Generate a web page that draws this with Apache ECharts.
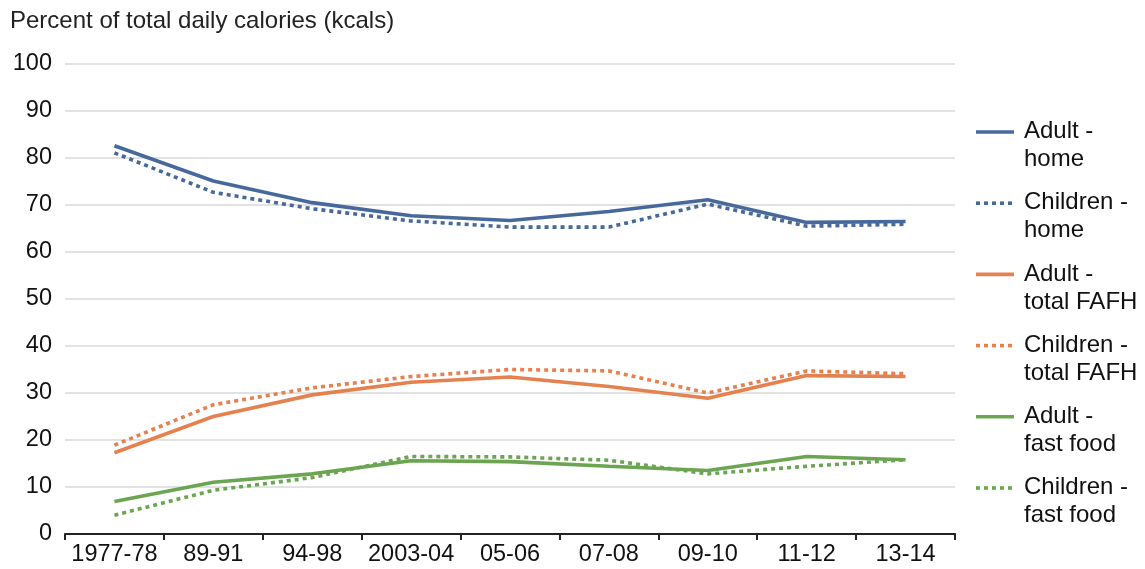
<!DOCTYPE html>
<html><head><meta charset="utf-8">
<script src="https://cdn.jsdelivr.net/npm/echarts@6/dist/echarts.min.js"></script>
<style>html,body{margin:0;padding:0;background:#fff}#c{width:1145px;height:569px}</style>
</head><body><div id="c"></div>
<script>
const categories = ['1977-78','89-91','94-98','2003-04','05-06','07-08','09-10','11-12','13-14'];
const adultHome = [82.6,75.1,70.5,67.7,66.7,68.6,71.1,66.3,66.5];
const childHome = [81.1,72.7,69.2,66.6,65.3,65.3,70.2,65.5,65.9];
const adultFAFH = [17.3,25.0,29.6,32.3,33.4,31.4,28.9,33.7,33.5];
const childFAFH = [18.9,27.5,31.1,33.5,35.0,34.7,30.0,34.7,34.1];
const adultFast = [6.9,11.0,12.8,15.6,15.4,14.4,13.5,16.5,15.8];
const childFast = [4.0,9.3,12.0,16.5,16.4,15.7,12.8,14.4,15.8];
const seriesNames = [['Adult -','home'],['Children -','home'],['Adult -','total FAFH'],['Children -','total FAFH'],['Adult -','fast food'],['Children -','fast food']];
const yTicks = [0,10,20,30,40,50,60,70,80,90,100];
const yTitle = 'Percent of total daily calories (kcals)';

const BLUE='#47689B', ORANGE='#E5814F', GREEN='#6BA552';
const FONT='"Liberation Sans", Arial, Helvetica, sans-serif';
const dataSets=[adultHome,childHome,adultFAFH,childFAFH,adultFast,childFast];
const colors=[BLUE,BLUE,ORANGE,ORANGE,GREEN,GREEN];
const dashed=[false,true,false,true,false,true];

const series=dataSets.map((d,i)=>({
  name:seriesNames[i].join(' '),type:'line',data:d,symbol:'none',smooth:false,
  lineStyle:{color:colors[i],width:3.6,type:dashed[i]?[4,4]:'solid',cap:'butt'},
  itemStyle:{color:colors[i]},z:dashed[i]?3:2
}));

const graphic=[{type:'text',left:10,top:9,style:{text:yTitle,font:'24px '+FONT,fill:'#222'}}];
seriesNames.forEach((n,i)=>{
  const yc=132+i*71.2;
  graphic.push({type:'line',shape:{x1:976,y1:yc,x2:1014,y2:yc},
    style:{stroke:colors[i],lineWidth:3.6,lineDash:dashed[i]?[4,4]:null}});
  graphic.push({type:'text',x:1024,y:yc-14.5,style:{text:n[0]+'\n'+n[1],font:'24px '+FONT,fill:'#111',lineHeight:28,textVerticalAlign:'top'}});
});

const chart=echarts.init(document.getElementById('c'),null,{renderer:'canvas'});
chart.setOption({
  animation:false,
  grid:{left:65,right:190,top:64,bottom:35,containLabel:false},
  xAxis:{type:'category',data:categories,boundaryGap:true,
    axisLine:{lineStyle:{color:'#222',width:2}},
    axisTick:{show:true,length:6,lineStyle:{color:'#222',width:2},alignWithLabel:false},
    axisLabel:{color:'#111',fontSize:23.5,fontFamily:FONT,margin:9,interval:0}},
  yAxis:{type:'value',min:0,max:100,interval:10,
    axisLine:{show:false},axisTick:{show:false},
    splitLine:{lineStyle:{color:'#D9D9D9',width:1.5}},
    axisLabel:{color:'#111',fontSize:23.5,fontFamily:FONT,margin:13}},
  series:series,
  graphic:graphic
});
</script></body></html>
